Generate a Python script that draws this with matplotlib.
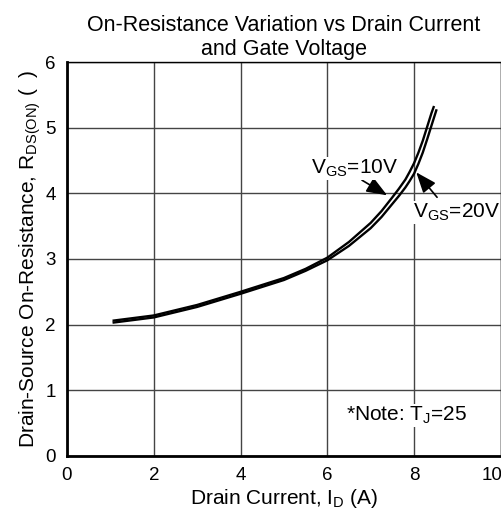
import matplotlib.pyplot as plt
from matplotlib.transforms import ScaledTranslation

plt.rcParams['font.family'] = ['Liberation Sans', 'DejaVu Sans']

# drain current (A) and on-resistance (ohm)
id_10v = [1.05, 2.0, 3.0, 4.0, 5.0, 5.5, 6.0, 6.5, 7.0, 7.25, 7.5, 7.65, 7.8, 7.9, 8.0, 8.1, 8.2, 8.3, 8.4, 8.46]
r_10v = [2.06, 2.14, 2.30, 2.50, 2.71, 2.85, 3.02, 3.26, 3.55, 3.73, 3.94, 4.07, 4.21, 4.33, 4.46, 4.62, 4.80, 5.01, 5.22, 5.33]
id_20v = [1.05, 2.0, 3.0, 4.0, 5.0, 5.5, 6.0, 6.5, 7.0, 7.25, 7.5, 7.65, 7.8, 7.9, 8.0, 8.1, 8.2, 8.3, 8.4, 8.52]
r_20v = [2.03, 2.11, 2.27, 2.47, 2.68, 2.82, 2.98, 3.20, 3.47, 3.64, 3.84, 3.96, 4.09, 4.19, 4.30, 4.45, 4.62, 4.82, 5.03, 5.28]

xticks = [0, 2, 4, 6, 8, 10]
yticks = [0, 1, 2, 3, 4, 5, 6]

fig = plt.figure(figsize=(5.01, 5.15), dpi=100)
ax = fig.add_axes([0.1337, 0.1146, 0.866, 0.765])

ax.plot(id_10v, r_10v, color='black', lw=1.7, solid_joinstyle='round', solid_capstyle='butt')
ax.plot(id_20v, r_20v, color='black', lw=1.7, solid_joinstyle='round', solid_capstyle='butt')

ax.set_xlim(0, 10)
ax.set_ylim(0, 6)
ax.set_xticks(xticks)
ax.set_yticks(yticks)
ax.tick_params(length=0, labelsize=13.5, pad=8)
ax.grid(True, color='#444444', lw=1)
for s in ax.spines.values():
    s.set_color('black')
    s.set_linewidth(1)
ax.spines['left'].set_linewidth(2)
ax.spines['bottom'].set_linewidth(2)

# last x label sits at the picture edge; nudge it in a little
last = ax.get_xticklabels()[-1]
last.set_transform(last.get_transform() + ScaledTranslation(-9 / 100, 0, fig.dpi_scale_trans))

arrow = dict(arrowstyle='-|>,head_length=0.9,head_width=0.35', color='black', lw=1.2,
             mutation_scale=14, shrinkA=0, shrinkB=0)
ax.annotate('', xy=(7.38, 3.97), xytext=(6.80, 4.20), arrowprops=arrow)
ax.annotate('', xy=(8.05, 4.32), xytext=(8.53, 3.94), arrowprops=arrow)

box = dict(facecolor='white', edgecolor='none', pad=0.5)
ax.text(6.62, 4.38, 'V$_{\\mathregular{GS}}$=10V', ha='center', va='center', fontsize=15, bbox=box)
ax.text(8.97, 3.71, 'V$_{\\mathregular{GS}}$=20V', ha='center', va='center', fontsize=15, bbox=box)
ax.text(6.44, 0.62, '*Note: T$_{\\mathregular{J}}$=25', ha='left', va='center', fontsize=15, bbox=box)

ax.set_xlabel('Drain Current, I$_{\\mathregular{D}}$ (A)', fontsize=15, labelpad=2)
ax.set_ylabel('Drain-Source On-Resistance, R$_{\\mathregular{DS(ON)}}$ (  )', fontsize=15, labelpad=2)
ax.set_title('On-Resistance Variation vs Drain Current\nand Gate Voltage', fontsize=15.5,
             pad=5, linespacing=1.2)

fig.savefig('out.png', dpi=100)
